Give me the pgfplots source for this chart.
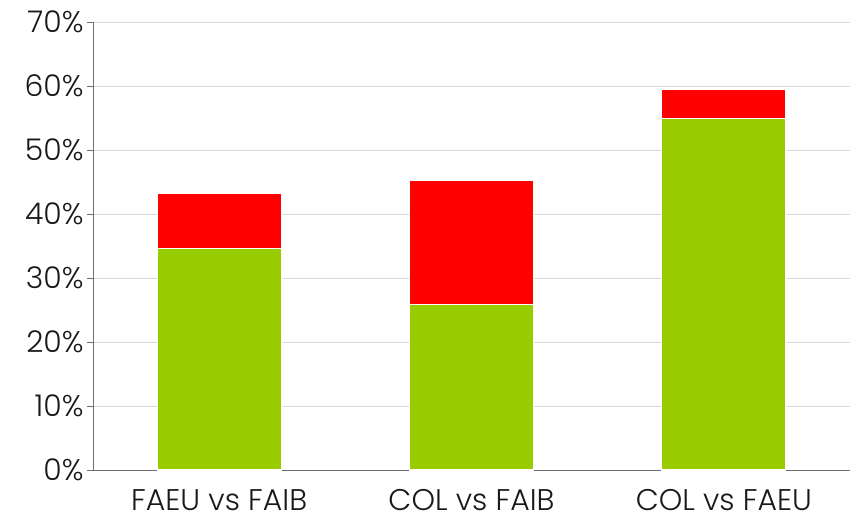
\documentclass[border=0pt]{standalone}
\usepackage{pgfplots}
\pgfplotsset{compat=1.18}
\usepackage{fontspec}
\setmainfont{Poppins Light}
\definecolor{cgreen}{RGB}{153,204,0}
\definecolor{cred}{RGB}{255,0,0}
\definecolor{gridc}{RGB}{217,217,217}
\definecolor{axc}{RGB}{110,110,110}
\begin{document}
\begin{tikzpicture}
\begin{axis}[
  scale only axis, width=757bp, height=448bp,
  ybar stacked, bar width=124bp,
  xmin=-0.5, xmax=2.5, ymin=0, ymax=70,
  xtick={0,1,2}, xticklabels={FAEU vs FAIB, COL vs FAIB, COL vs FAEU},
  extra x ticks={-0.5,0.5,1.5,2.5}, extra x tick labels={},
  extra x tick style={major tick length=6bp, tick style={axc, line width=0.8pt}, grid=none},
  x tick style={draw=none},
  ytick={0,10,...,70},
  yticklabel={\pgfmathprintnumber{\tick}\%},
  /pgf/number format/assume math mode=true,
  ymajorgrids, grid style={gridc, line width=0.8pt},
  y tick style={axc, line width=0.8pt}, major tick length=6bp,
  tick align=outside,
  axis x line*=bottom, axis y line*=left,
  axis line style={axc, line width=0.8pt},
  tick label style={font=\fontsize{30}{34}\selectfont, text=black!90},
  xticklabel style={anchor=base, yshift=-34bp, inner sep=0pt, text depth=0pt},
]
\addplot[fill=cgreen, draw=white, line width=1.2pt] coordinates {(0,34.6) (1,25.9) (2,54.9)};
\addplot[fill=cred, draw=white, line width=1.2pt] coordinates {(0,8.6) (1,19.3) (2,4.6)};
\end{axis}
\pgfresetboundingbox
\path[use as bounding box] (-93bp,-53bp) rectangle (757bp,470bp);
\end{tikzpicture}
\end{document}
